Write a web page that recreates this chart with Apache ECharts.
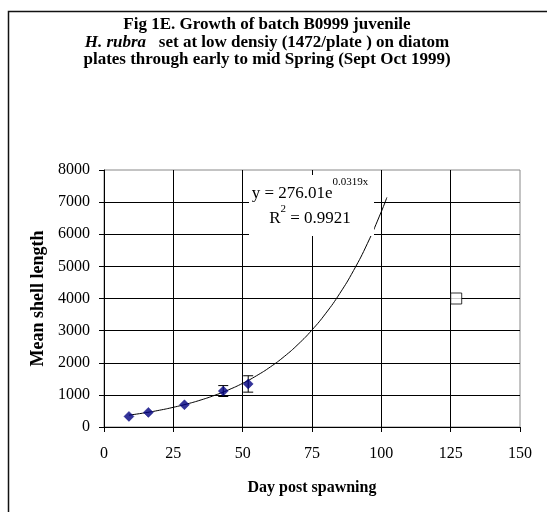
<!DOCTYPE html>
<html>
<head>
<meta charset="utf-8">
<script src="https://cdn.jsdelivr.net/npm/echarts@6/dist/echarts.min.js"></script>
<style>
html,body{margin:0;padding:0;background:#fff;}
#chart{width:547px;height:512px;}
</style>
</head>
<body>
<div id="chart"></div>
<script>
// Measured growth data
var days = [9, 16, 29, 43, 52];
var meanLength = [330, 455, 693, 1119, 1340];
var errorSize = [0, 0, 0, 170, 255];

// Exponential trendline
var trendDays = [9, 15, 20, 25, 30, 35, 40, 45, 50, 55, 60, 65, 70, 75, 80, 85, 90, 95, 100, 102];
var trendValues = [368, 445, 522, 613, 719, 843, 989, 1160, 1360, 1596, 1871, 2195, 2575, 3020, 3542, 4155, 4873, 5716, 6704, 7146];

// Lone hollow square marker
var squareX = [127];
var squareY = [4000];

var xTicks = {min: 0, max: 150, interval: 25};
var yTicks = {min: 0, max: 8000, interval: 1000};

var serif = '"Liberation Serif", "Times New Roman", serif';

function textWidth(str, font) {
  var c = document.createElement('canvas').getContext('2d');
  c.font = font;
  return c.measureText(str).width;
}

var eqFont = '17px ' + serif;
var supFont = '11px ' + serif;
var l1a = 'y = 276.01e', l1b = '0.0319x';
var l2a = 'R', l2b = '2', l2c = ' = 0.9921';
var eqCenter = 310;
var w1a = textWidth(l1a, eqFont), w1b = textWidth(l1b, supFont);
var x1 = eqCenter - (w1a + w1b) / 2;
var w2a = textWidth(l2a, eqFont), w2b = textWidth(l2b, supFont), w2c = textWidth(l2c, eqFont);
var x2 = eqCenter - (w2a + w2b + w2c) / 2;

var chart = echarts.init(document.getElementById('chart'), null, {renderer: 'canvas'});

var option = {
  backgroundColor: '#fff',
  animation: false,
  title: {
    left: 262,
    textAlign: 'center',
    top: 11,
    text: '{b|Fig 1E. Growth of batch B0999 juvenile}\n{i|H. rubra}{b|   set at low densiy (1472/plate ) on diatom}\n{b|plates through early to mid Spring (Sept Oct 1999)}',
    textStyle: {
      rich: {
        b: {fontFamily: serif, fontSize: 17, fontWeight: 'bold', color: '#000', lineHeight: 17.5},
        i: {fontFamily: serif, fontSize: 17, fontWeight: 'bold', fontStyle: 'italic', color: '#000', lineHeight: 17.5}
      }
    }
  },
  grid: {
    left: 104, right: 27, top: 170, bottom: 85,
    show: true, borderColor: '#888', borderWidth: 1, backgroundColor: 'transparent'
  },
  xAxis: {
    type: 'value',
    min: xTicks.min, max: xTicks.max, interval: xTicks.interval,
    name: 'Day post spawning',
    nameLocation: 'middle',
    nameGap: 53,
    nameTextStyle: {fontFamily: serif, fontSize: 16, fontWeight: 'bold', color: '#000', verticalAlign: 'top'},
    axisLine: {show: true, lineStyle: {color: '#000', width: 1}},
    axisTick: {show: true, inside: false, length: 5, lineStyle: {color: '#000'}},
    axisLabel: {fontFamily: serif, fontSize: 16, color: '#000', margin: 19},
    splitLine: {show: true, showMaxLine: false, lineStyle: {color: '#000', width: 1}}
  },
  yAxis: {
    type: 'value',
    min: yTicks.min, max: yTicks.max, interval: yTicks.interval,
    name: 'Mean shell length',
    nameLocation: 'middle',
    nameGap: 42,
    nameRotate: 90,
    nameTextStyle: {fontFamily: serif, fontSize: 18, fontWeight: 'bold', color: '#000'},
    axisLine: {show: true, lineStyle: {color: '#000', width: 1}},
    axisTick: {show: true, inside: false, length: 5, lineStyle: {color: '#000'}},
    axisLabel: {fontFamily: serif, fontSize: 16, color: '#000', margin: 14, formatter: function (v) { return String(v); }},
    splitLine: {show: true, showMaxLine: false, lineStyle: {color: '#000', width: 1}}
  },
  series: [
    {
      type: 'line',
      data: trendDays.map(function (d, i) { return [d, trendValues[i]]; }),
      smooth: true,
      showSymbol: false,
      symbol: 'none',
      lineStyle: {color: '#000', width: 1},
      z: 3
    },
    {
      type: 'custom',
      data: days.map(function (d, i) { return [d, meanLength[i], errorSize[i]]; }),
      renderItem: function (params, api) {
        var x = api.value(0), y = api.value(1), e = api.value(2);
        if (!e) return null;
        var top = api.coord([x, y + e]);
        var bot = api.coord([x, y - e]);
        var hw = 5;
        return {
          type: 'group',
          children: [
            {type: 'line', shape: {x1: top[0], y1: top[1], x2: bot[0], y2: bot[1]}, style: {stroke: '#000', lineWidth: 1}},
            {type: 'line', shape: {x1: top[0] - hw, y1: top[1], x2: top[0] + hw, y2: top[1]}, style: {stroke: '#000', lineWidth: 1}},
            {type: 'line', shape: {x1: bot[0] - hw, y1: bot[1], x2: bot[0] + hw, y2: bot[1]}, style: {stroke: '#000', lineWidth: 1}}
          ]
        };
      },
      z: 4
    },
    {
      type: 'scatter',
      data: days.map(function (d, i) { return [d, meanLength[i]]; }),
      symbol: 'diamond',
      symbolSize: 10,
      itemStyle: {color: '#000080', borderColor: '#000080', borderWidth: 0.5},
      z: 5
    },
    {
      type: 'scatter',
      data: squareX.map(function (d, i) { return [d, squareY[i]]; }),
      symbol: 'rect',
      symbolSize: 11,
      itemStyle: {color: '#fff', borderColor: '#000', borderWidth: 1},
      z: 5
    }
  ],
  graphic: [
    {
      type: 'rect', z: 100,
      shape: {x: 8.5, y: 11.5, width: 600, height: 600},
      style: {fill: 'none', stroke: '#111', lineWidth: 1.5},
      silent: true
    },
    {
      type: 'rect', z: 100,
      shape: {x: 249, y: 175, width: 125, height: 61},
      style: {fill: '#fff', stroke: 'none'}
    },
    {
      type: 'text', z: 101,
      x: x1, y: 194,
      style: {text: l1a, font: eqFont, fill: '#000', verticalAlign: 'middle'}
    },
    {
      type: 'text', z: 101,
      x: x1 + w1a, y: 182,
      style: {text: l1b, font: supFont, fill: '#000', verticalAlign: 'middle'}
    },
    {
      type: 'text', z: 101,
      x: x2, y: 219,
      style: {text: l2a, font: eqFont, fill: '#000', verticalAlign: 'middle'}
    },
    {
      type: 'text', z: 101,
      x: x2 + w2a, y: 209,
      style: {text: l2b, font: supFont, fill: '#000', verticalAlign: 'middle'}
    },
    {
      type: 'text', z: 101,
      x: x2 + w2a + w2b, y: 219,
      style: {text: l2c, font: eqFont, fill: '#000', verticalAlign: 'middle'}
    }
  ]
};

chart.setOption(option);
</script>
</body>
</html>
